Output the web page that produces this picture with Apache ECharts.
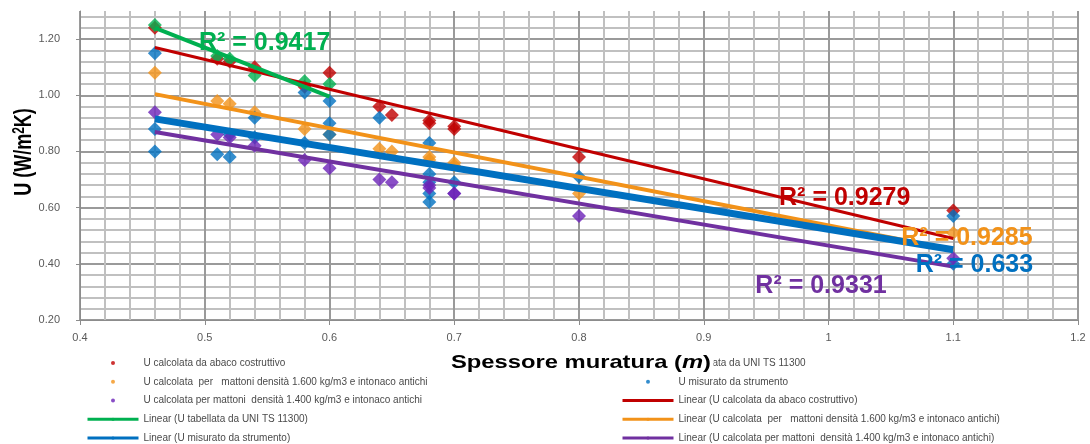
<!DOCTYPE html>
<html>
<head>
<meta charset="utf-8">
<script src="https://cdn.jsdelivr.net/npm/echarts@6/dist/echarts.min.js"></script>
<style>
html,body{margin:0;padding:0;background:#fff;}
#c{width:1090px;height:444px;}
</style>
</head>
<body>
<div id="c"></div>
<script>
// ---- data ----
const redX    = [0.46,0.51,0.52,0.54,0.58,0.60,0.64,0.65,0.68,0.68,0.70,0.70,0.80,1.10];
const redU    = [1.24,1.13,1.12,1.10,1.03,1.08,0.96,0.93,0.91,0.90,0.89,0.88,0.78,0.59];
const greenX  = [0.46,0.51,0.52,0.54,0.58,0.60];
const greenU  = [1.25,1.14,1.13,1.07,1.05,1.04];
const orangeX = [0.46,0.51,0.52,0.54,0.58,0.60,0.64,0.65,0.68,0.68,0.70,0.70,0.80,1.10];
const orangeU = [1.08,0.98,0.97,0.94,0.88,0.86,0.81,0.80,0.78,0.77,0.76,0.75,0.65,0.51];
const blueX   = [0.46,0.46,0.46,0.51,0.52,0.52,0.54,0.54,0.58,0.58,0.60,0.60,0.60,0.64,0.68,0.68,0.68,0.68,0.68,0.70,0.80,1.10,1.10];
const blueU   = [1.15,0.88,0.80,0.79,0.78,0.86,0.92,0.85,1.01,0.83,0.98,0.90,0.86,0.92,0.83,0.72,0.69,0.65,0.62,0.69,0.71,0.57,0.40];
const purpleX = [0.46,0.51,0.52,0.54,0.58,0.60,0.64,0.65,0.68,0.68,0.70,0.70,0.80,1.10];
const purpleU = [0.94,0.86,0.85,0.82,0.77,0.74,0.70,0.69,0.68,0.67,0.65,0.65,0.57,0.42];

// trendline end points (x, U)
const trendRed    = [[0.46,1.170],[1.10,0.490]];
const trendGreen  = [[0.46,1.240],[0.60,0.995]];
const trendOrange = [[0.46,1.004],[1.10,0.450]];
const trendBlue   = [[0.46,0.916],[1.10,0.450]];
const trendPurple = [[0.46,0.869],[1.10,0.390]];

const r2Red = 'R² = 0.9279', r2Green = 'R² = 0.9417', r2Orange = 'R² = 0.9285', r2Blue = 'R² = 0.633', r2Purple = 'R² = 0.9331';

const nRed = 'U calcolata da abaco costruttivo';
const nGreen = 'U tabellata da UNI TS 11300';
const nOrange = 'U calcolata  per   mattoni densità 1.600 kg/m3 e intonaco antichi';
const nBlue = 'U misurato da strumento';
const nPurple = 'U calcolata per mattoni  densità 1.400 kg/m3 e intonaco antichi';

const xTicksMajor = 0.1, yMin = 0.2, yMax = 1.3;

// ---- build ----
const FONT = '"Liberation Sans", Arial, sans-serif';
const zip = (xs, ys) => xs.map((x, i) => [x, ys[i]]);

function scatter(name, xs, ys, color) {
  return { name, type: 'scatter', data: zip(xs, ys), symbol: 'diamond', symbolSize: 14,
    itemStyle: { color: color }, z: 2 };
}
function trend(name, pts, color, width, label, at, lblColor) {
  return { name: 'Linear (' + name + ')', type: 'line', data: pts, symbol: 'none',
    lineStyle: { color: color, width: width }, itemStyle: { color: color }, z: 3,
    markPoint: { symbol: 'circle', symbolSize: 0, silent: true,
      data: [{ coord: at }],
      label: { show: true, position: 'inside', formatter: label, color: lblColor,
        fontFamily: FONT, fontWeight: 'bold', fontSize: 25 } } };
}

const C = { red: '#C00000', green: '#00B050', orange: '#F29219', blue: '#0070C0', purple: '#6C22B8', purpleLine: '#7030A0' };
const GMAJ = '#9a9a9a', GMIN = '#c0c0c0';

const legendBase = {
  orient: 'vertical', top: 357, padding: 0, itemWidth: 51, itemHeight: 4, itemGap: 6.75,
  selectedMode: false, z: 4,
  textStyle: { fontFamily: FONT, fontSize: 10, color: '#4a4a4a', lineHeight: 12 },
  lineStyle: { width: 3 }
};

const option = {
  animation: false,
  backgroundColor: '#fff',
  grid: { left: 80, right: 12, top: 11, bottom: 124, containLabel: false },
  xAxis: {
    type: 'value', min: 0.4, max: 1.2, interval: xTicksMajor,
    axisLine: { show: true, lineStyle: { color: '#8c8c8c' } },
    axisTick: { show: true, length: 5, lineStyle: { color: '#8c8c8c' } },
    axisLabel: { color: '#595959', fontSize: 11, fontFamily: FONT, margin: 12 },
    splitLine: { show: true, lineStyle: { color: GMAJ, width: 2 } },
    minorTick: { show: false, splitNumber: 5 },
    minorSplitLine: { show: true, lineStyle: { color: GMIN, width: 2 } }
  },
  yAxis: [
    { type: 'value', min: yMin, max: yMax, interval: 0.04,
      axisLine: { show: false }, axisTick: { show: false }, axisLabel: { show: false },
      splitLine: { show: true, showMaxLine: false, lineStyle: { color: GMIN, width: 2 } } },
    { type: 'value', min: yMin, max: yMax, interval: 0.2, position: 'left',
      axisLine: { show: true, lineStyle: { color: '#8c8c8c' } },
      axisTick: { show: true, length: 4, lineStyle: { color: '#8c8c8c' } },
      axisLabel: { color: '#595959', fontSize: 11, fontFamily: FONT, margin: 20, showMaxLabel: false,
        formatter: v => v.toFixed(2) },
      splitLine: { show: true, showMaxLine: false, lineStyle: { color: GMAJ, width: 2 } } }
  ],
  legend: [
    Object.assign({}, legendBase, { left: 86, data: [
      { name: nRed, icon: 'circle' }, { name: nOrange, icon: 'circle' }, { name: nPurple, icon: 'circle' },
      { name: 'Linear (' + nGreen + ')' }, { name: 'Linear (' + nBlue + ')' } ] }),
    Object.assign({}, legendBase, { left: 621, data: [
      { name: nGreen, icon: 'circle' }, { name: nBlue, icon: 'circle' },
      { name: 'Linear (' + nRed + ')' }, { name: 'Linear (' + nOrange + ')' }, { name: 'Linear (' + nPurple + ')' } ] })
  ],
  graphic: [
    { type: 'text', x: 581, y: 363, scaleX: 1.25, z: 100,
      style: { text: '{b|Spessore muratura (}{i|m}{b|)}', align: 'center', verticalAlign: 'middle',
        textAlign: 'center', textVerticalAlign: 'middle', backgroundColor: '#fff', padding: [1, 2],
        rich: { b: { fontFamily: FONT, fontWeight: 'bold', fontSize: 19, fill: '#000', color: '#000' },
                i: { fontFamily: FONT, fontWeight: 'bold', fontStyle: 'italic', fontSize: 19, fill: '#000', color: '#000' } } } },
    { type: 'text', x: 25, y: 152, rotation: Math.PI / 2, scaleY: 1.3, z: 100,
      style: { text: '{b|U (W/m}{s|2}{b|K)}', align: 'center', verticalAlign: 'middle',
        textAlign: 'center', textVerticalAlign: 'middle',
        rich: { b: { fontFamily: FONT, fontWeight: 'bold', fontSize: 18, lineHeight: 20, fill: '#000', color: '#000' },
                s: { fontFamily: FONT, fontWeight: 'bold', fontSize: 12, lineHeight: 20, verticalAlign: 'top', fill: '#000', color: '#000' } } } }
  ],
  series: [
    scatter(nRed, redX, redU, C.red),
    scatter(nGreen, greenX, greenU, C.green),
    scatter(nOrange, orangeX, orangeU, C.orange),
    scatter(nBlue, blueX, blueU, C.blue),
    scatter(nPurple, purpleX, purpleU, C.purple),
    trend(nRed, trendRed, C.red, 3, r2Red, [1.013, 0.634], C.red),
    trend(nGreen, trendGreen, C.green, 4, r2Green, [0.548, 1.186], C.green),
    trend(nOrange, trendOrange, C.orange, 4, r2Orange, [1.111, 0.491], C.orange),
    trend(nBlue, trendBlue, C.blue, 7, r2Blue, [1.117, 0.396], C.blue),
    trend(nPurple, trendPurple, C.purpleLine, 4, r2Purple, [0.994, 0.322], C.purpleLine)
  ]
};

const chart = echarts.init(document.getElementById('c'), null, { renderer: 'canvas' });
chart.setOption(option);
</script>
</body>
</html>
